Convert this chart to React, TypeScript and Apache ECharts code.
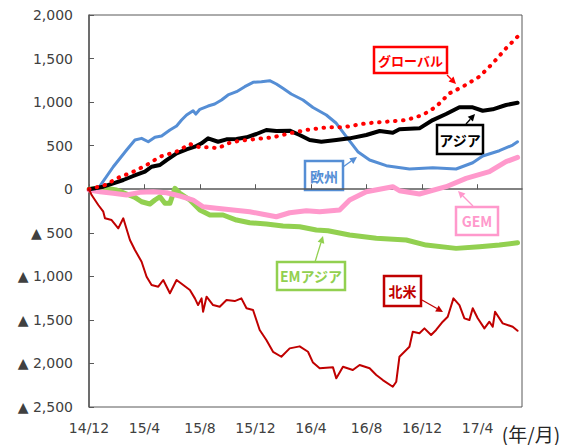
import React, { useEffect, useRef } from "react";
import * as echarts from "echarts";

// x = months elapsed since 2014/12, y = value
const globalData: [number, number][] = [
  [0, 0], [1.15, 48], [2.11, 132], [3.19, 201], [4.15, 278], [5.11, 373], [6.31, 431], [7.27, 519],
  [7.99, 481], [8.71, 481], [9.3, 470], [10.02, 527], [10.86, 557], [12.06, 576], [13.26, 596],
  [14.46, 642], [15.66, 680], [17.22, 711], [18.3, 711], [19.98, 757], [21.42, 775], [22.86, 794],
  [24.05, 852], [25.01, 947], [25.97, 1101], [26.93, 1177], [28.13, 1292], [29.09, 1445],
  [30.05, 1618], [30.88, 1751],
];
const asiaData: [number, number][] = [
  [0, 0], [1.03, 29], [1.75, 68], [2.47, 106], [3.19, 152], [4.03, 201], [4.51, 258], [5.11, 278],
  [5.59, 335], [6.31, 412], [7.03, 458], [7.63, 488], [8.11, 527], [8.58, 584], [9.3, 545],
  [9.91, 573], [10.63, 576], [11.35, 596], [12.06, 634], [12.78, 680], [13.5, 668], [14.46, 672],
  [15.18, 622], [15.9, 565], [16.74, 545], [17.82, 565], [18.78, 584], [19.98, 622], [20.94, 668],
  [21.89, 649], [22.37, 688], [23.81, 699], [24.77, 794], [25.73, 863], [26.69, 940], [27.65, 940],
  [28.37, 901], [29.09, 917], [30.05, 967], [30.88, 993],
];
const europeData: [number, number][] = [
  [0, 0], [0.67, 10], [1.75, 258], [2.71, 450], [3.31, 565], [3.79, 584], [4.27, 545], [4.75, 596],
  [5.23, 611], [5.83, 680], [6.31, 726], [6.67, 794], [7.03, 852], [7.5, 901], [7.7, 863],
  [7.99, 917], [8.58, 955], [9.06, 978], [9.55, 1024], [10.02, 1082], [10.63, 1120], [11.22, 1177],
  [11.82, 1227], [12.42, 1234], [13.02, 1246], [13.5, 1208], [13.97, 1158], [14.57, 1093],
  [15.42, 1024], [16.14, 938], [17.1, 852], [17.82, 757], [18.54, 603], [19.37, 431], [20.22, 335],
  [21.42, 270], [23.09, 232], [24.77, 247], [26.45, 232], [27.65, 304], [28.37, 381], [29.57, 442],
  [30.53, 507], [30.88, 545],
];
const gemData: [number, number][] = [
  [0, -10], [0.79, -29], [1.75, -47], [2.71, -67], [3.67, -36], [4.63, -29], [5.59, -40], [6.55, -78],
  [7.5, -124], [8.22, -201], [9.19, -219], [10.38, -239], [11.58, -258], [12.54, -288], [13.5, -316],
  [14.46, -270], [15.66, -247], [16.62, -258], [18.06, -239], [18.78, -124], [19.98, -29], [21.89, 29],
  [22.37, -17], [23.81, -55], [25.73, 29], [27.17, 125], [28.85, 201], [30.05, 316], [30.88, 366],
];
const emAsiaData: [number, number][] = [
  [0, 0], [1.27, 10], [1.99, -9], [2.71, -55], [3.31, -93], [3.79, -144], [4.39, -170], [4.75, -124],
  [5.11, -86], [5.47, -162], [5.83, -162], [6.19, 10], [6.55, -47], [7.27, -124], [7.99, -239],
  [8.71, -296], [9.66, -296], [10.63, -354], [11.58, -385], [12.78, -400], [13.98, -423],
  [15.18, -431], [16.38, -468], [17.22, -476], [18.78, -526], [20.7, -564], [22.86, -583],
  [24.29, -641], [26.45, -679], [28.13, -660], [29.57, -641], [30.88, -614],
];
const northAmericaData: [number, number][] = [
  [0, 0], [0.19, -67], [0.67, -181], [1.03, -258], [1.15, -334], [1.63, -354], [2.11, -449],
  [2.47, -334], [2.95, -583], [3.31, -698], [3.79, -832], [4.15, -1005], [4.51, -1100], [4.99, -1119],
  [5.35, -1042], [5.83, -1195], [6.31, -1042], [6.79, -1100], [7.27, -1157], [7.63, -1253],
  [7.86, -1330], [8.11, -1253], [8.22, -1406], [8.47, -1234], [8.94, -1330], [9.42, -1349],
  [9.91, -1272], [10.5, -1284], [10.98, -1253], [11.35, -1367], [11.82, -1387], [12.3, -1616],
  [12.78, -1731], [13.26, -1866], [13.86, -1923], [14.46, -1827], [15.18, -1804], [15.78, -1866],
  [16.14, -1990], [16.62, -2056], [17.58, -2045], [17.82, -2171], [18.3, -2038], [19.01, -2076],
  [19.5, -2018], [20.22, -2056], [20.7, -2133], [21.17, -2191], [21.89, -2268], [22.14, -2210],
  [22.37, -1923], [23.09, -1808], [23.33, -1636], [23.81, -1654], [24.17, -1597], [24.65, -1674],
  [25.01, -1616], [25.49, -1521], [25.85, -1464], [26.26, -1253], [26.69, -1330], [27.05, -1482],
  [27.41, -1502], [27.65, -1367], [28.01, -1482], [28.49, -1597], [28.85, -1521], [29.09, -1579],
  [29.26, -1406], [29.81, -1540], [30.53, -1579], [30.88, -1625],
];

const yMin = -2500;
const yMax = 2000;
const yStep = 500;
const xMax = 31.2;
const xStep = 4;

const labelFont = "DejaVu Sans";
const jpFont = "'Noto Sans CJK JP', sans-serif";

function fmtNum(v: number): string {
  return Math.abs(v).toLocaleString("en-US");
}

function fmtMonth(m: number): string {
  if (Math.abs(m - Math.round(m)) > 1e-6) return "";
  const total = 12 + Math.round(m);
  const year = 14 + Math.floor((total - 1) / 12);
  const month = ((total - 1) % 12) + 1;
  return `${year}/${month}`;
}

function arrow(x1: number, y1: number, x2: number, y2: number, color: string): any {
  const ang = Math.atan2(y2 - y1, x2 - x1);
  const len = 7;
  const half = 3.5;
  const bx = x2 - Math.cos(ang) * len;
  const by = y2 - Math.sin(ang) * len;
  const px = -Math.sin(ang) * half;
  const py = Math.cos(ang) * half;
  return {
    type: "group",
    children: [
      { type: "line", shape: { x1, y1, x2: bx, y2: by }, style: { stroke: color, lineWidth: 1.3 } },
      {
        type: "polygon",
        shape: { points: [[x2, y2], [bx + px, by + py], [bx - px, by - py]] },
        style: { fill: color },
      },
    ],
  };
}

function labelBox(x: number, y: number, w: number, h: number, text: string, color: string, size = 14): any {
  return {
    type: "group",
    children: [
      {
        type: "rect",
        shape: { x, y, width: w, height: h },
        style: { fill: "#ffffff", stroke: color, lineWidth: 2.5 },
      },
      {
        type: "text",
        x: x + w / 2,
        y: y + h / 2,
        style: {
          text,
          fill: color,
          font: `bold ${size}px ${jpFont}`,
          align: "center",
          verticalAlign: "middle",
        },
      },
    ],
  };
}

export default function App() {
  const ref = useRef<HTMLDivElement>(null);
  useEffect(() => {
    if (!ref.current) return;
    const chart = echarts.init(ref.current, undefined, { renderer: "svg" });
    const line = (name: string, data: [number, number][], color: string, width: number, z: number, type: any = "solid") => ({
      name,
      type: "line",
      data,
      showSymbol: false,
      symbol: "none",
      z,
      lineStyle: { color, width, type, cap: "round", join: "round" },
    });
    chart.setOption({
      animation: false,
      backgroundColor: "#ffffff",
      grid: { left: 89, right: 51, top: 15, bottom: 38, show: true, borderColor: "#595959", borderWidth: 1, backgroundColor: "transparent" },
      xAxis: {
        type: "value",
        min: 0,
        max: xMax,
        interval: xStep,
        axisLine: { show: true, lineStyle: { color: "#595959", width: 1.5 } },
        axisTick: { show: true, inside: true, length: 5, lineStyle: { color: "#595959" } },
        splitLine: { show: false },
        axisLabel: {
          formatter: (v: number) => fmtMonth(v),
          showMaxLabel: false,
          color: "#404040",
          fontFamily: labelFont,
          fontSize: 14,
          margin: 14,
        },
      },
      yAxis: {
        type: "value",
        min: yMin,
        max: yMax,
        interval: yStep,
        axisLine: { show: true, lineStyle: { color: "#595959", width: 1.5 } },
        axisTick: { show: true, inside: true, length: 5, lineStyle: { color: "#595959" } },
        splitLine: { show: false },
        axisLabel: {
          formatter: (v: number) => (v < 0 ? "▲ " + fmtNum(v) : fmtNum(v)),
          color: "#404040",
          fontFamily: labelFont,
          fontSize: 14,
          margin: 16,
        },
      },
      series: [
        line("EMアジア", emAsiaData, "#92d050", 5, 2),
        line("GEM", gemData, "#ff99cc", 5, 3),
        line("欧州", europeData, "#558ed5", 3, 4),
        line("アジア", asiaData, "#000000", 4, 5),
        line("グローバル", globalData, "#ff0000", 4, 6, [0.5, 7.5]),
        line("北米", northAmericaData, "#c00000", 2, 7),
      ],
      graphic: [
        arrow(447, 75, 456, 84, "#ff0000"),
        labelBox(374, 47, 73, 26, "グローバル", "#ff0000", 13),
        arrow(466, 124, 475, 114, "#000000"),
        labelBox(437, 125, 46, 29, "アジア", "#000000"),
        arrow(343, 167, 357, 157, "#558ed5"),
        labelBox(305, 161, 38, 29, "欧州", "#558ed5"),
        arrow(473, 206, 458, 191, "#ff99cc"),
        labelBox(456, 207, 42, 28, "GEM", "#ff99cc"),
        arrow(315, 262, 323, 236, "#92d050"),
        labelBox(277, 262, 68, 28, "EMアジア", "#92d050"),
        arrow(422, 300, 443, 312, "#c00000"),
        labelBox(384, 276, 37, 30, "北米", "#c00000"),
        {
          type: "text",
          x: 531,
          y: 433,
          style: {
            text: "(年/月)",
            fill: "#262626",
            font: `19px ${jpFont}`,
            align: "center",
            verticalAlign: "middle",
          },
        },
      ],
    });
    return () => chart.dispose();
  }, []);
  return <div ref={ref} style={{ position: "fixed", left: 0, top: 0, width: 573, height: 445 }} />;
}
